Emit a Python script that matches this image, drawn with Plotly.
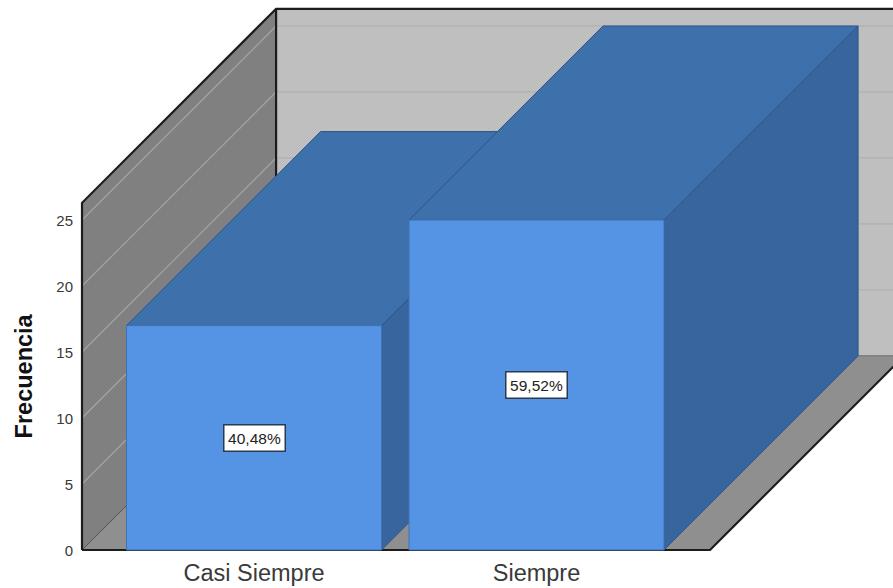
import plotly.graph_objects as go

# Chart data
categorias = ["Casi Siempre", "Siempre"]
frecuencias = [17, 25]
marcas_eje_y = [0, 5, 10, 15, 20, 25]

# Oblique projection of the box, in axis units
ANCHO_BARRA = 0.9026
PROF_X = 0.687
PROF_Y = 14.7
Y_TECHO = 26.3
X_IZQ = -0.6088
X_DER = 1.6142

# Axis ranges
RANGO_X = [-0.8991, 2.2619]
RANGO_Y = [-2.879, 41.667]
FIG_W, FIG_H = 893, 588

PARED_LATERAL = "#808080"
PARED_FONDO = "#bfbfbf"
SUELO = "#8f8f8f"
REJILLA_LATERAL = "#a3a3a3"
REJILLA_FONDO = "#b0b0b0"
MARCO = "#1c1c1c"
CARA_FRONTAL = "#5594e4"
CARA_SUPERIOR = "#3e70ac"
CARA_LATERAL = "#38659d"
BORDE_BARRA = "#2f5688"
TEXTO = "#3a3a3a"
FUENTE = "Liberation Sans"

fig = go.Figure()


def poligono(xs, ys, relleno, borde=None, grosor=1):
    fig.add_trace(go.Scatter(
        x=xs + xs[:1], y=ys + ys[:1], mode="lines", fill="toself", fillcolor=relleno,
        line=dict(color=borde or relleno, width=grosor), hoverinfo="skip", showlegend=False,
    ))


def linea(xs, ys, color, grosor):
    fig.add_trace(go.Scatter(
        x=xs, y=ys, mode="lines", line=dict(color=color, width=grosor),
        hoverinfo="skip", showlegend=False,
    ))


# Walls and floor
x_fondo_izq = X_IZQ + PROF_X
x_fondo_der = X_DER + PROF_X
poligono([x_fondo_izq, x_fondo_der, x_fondo_der, x_fondo_izq],
         [PROF_Y, PROF_Y, PROF_Y + Y_TECHO, PROF_Y + Y_TECHO], PARED_FONDO)
poligono([X_IZQ, x_fondo_izq, x_fondo_izq, X_IZQ],
         [0, PROF_Y, PROF_Y + Y_TECHO, Y_TECHO], PARED_LATERAL)
poligono([X_IZQ, X_DER, x_fondo_der, x_fondo_izq],
         [0, 0, PROF_Y, PROF_Y], SUELO)

# Gridlines on the walls
for v in marcas_eje_y[1:]:
    linea([X_IZQ, x_fondo_izq], [v, v + PROF_Y], REJILLA_LATERAL, 1.2)
    linea([x_fondo_izq, x_fondo_der], [v + PROF_Y, v + PROF_Y], REJILLA_FONDO, 1.2)
linea([X_IZQ, x_fondo_izq], [0, PROF_Y], "#555555", 1)
linea([x_fondo_izq, x_fondo_der], [PROF_Y, PROF_Y], "#7a7a7a", 1.2)

# Box frame
linea([X_IZQ, X_IZQ, x_fondo_izq, x_fondo_der], [0, Y_TECHO, PROF_Y + Y_TECHO, PROF_Y + Y_TECHO], MARCO, 2.2)
linea([x_fondo_izq, x_fondo_izq], [PROF_Y, PROF_Y + Y_TECHO], MARCO, 2.2)
linea([X_IZQ, X_DER, x_fondo_der], [0, 0, PROF_Y], MARCO, 2.2)

# Bars, drawn from the back of the scene to the front
total = sum(frecuencias)
for i, valor in enumerate(frecuencias):
    x0 = i - ANCHO_BARRA / 2
    x1 = i + ANCHO_BARRA / 2
    poligono([x1, x1 + PROF_X, x1 + PROF_X, x1], [0, PROF_Y, valor + PROF_Y, valor],
             CARA_LATERAL, BORDE_BARRA)
    poligono([x0, x1, x1 + PROF_X, x0 + PROF_X], [valor, valor, valor + PROF_Y, valor + PROF_Y],
             CARA_SUPERIOR, BORDE_BARRA)
    poligono([x0, x1, x1, x0], [0, 0, valor, valor], CARA_FRONTAL, "#3f72b4")
    fig.add_annotation(
        x=i, y=valor / 2, xref="x", yref="y", showarrow=False,
        text=f"{100 * valor / total:.2f}%".replace(".", ","),
        font=dict(family=FUENTE, size=15.5, color="#222222"),
        bgcolor="white", bordercolor="#2b3a4c", borderwidth=1.5, borderpad=1, width=58, height=23,
    )

# Axis title, centred on the wall height
fig.add_annotation(
    x=24 / FIG_W, y=Y_TECHO / 2, xref="paper", yref="y", showarrow=False, textangle=-90,
    xanchor="center", yanchor="middle",
    text="<b>Frecuencia</b>", font=dict(family=FUENTE, size=23.5, color="#111111"),
)

fig.update_layout(
    width=FIG_W, height=FIG_H, margin=dict(l=0, r=0, t=0, b=0), autosize=False,
    paper_bgcolor="white", plot_bgcolor="white", showlegend=False, hovermode=False,
    xaxis=dict(
        range=RANGO_X, anchor="free", position=(-RANGO_Y[0]) / (RANGO_Y[1] - RANGO_Y[0]),
        tickmode="array", tickvals=list(range(len(categorias))), ticktext=categorias,
        automargin=False, showgrid=False, zeroline=False, showline=False,
        ticks="outside", ticklen=2, tickcolor="rgba(0,0,0,0)",
        tickfont=dict(family=FUENTE, size=23.5, color=TEXTO),
    ),
    yaxis=dict(
        range=RANGO_Y, anchor="free", position=(X_IZQ - RANGO_X[0]) / (RANGO_X[1] - RANGO_X[0]),
        tickmode="array", tickvals=marcas_eje_y, ticklabelshift=1,
        automargin=False, showgrid=False, zeroline=False, showline=False, ticks="outside", ticklen=6,
        tickcolor="rgba(0,0,0,0)", tickfont=dict(family=FUENTE, size=15, color=TEXTO),
    ),
)

fig.write_html("out.html", config=dict(displayModeBar=False))
